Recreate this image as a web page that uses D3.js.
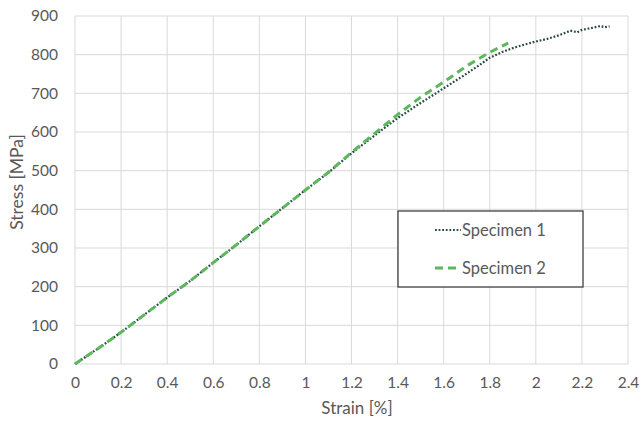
<!DOCTYPE html>
<html><head><meta charset="utf-8">
<script src="https://cdn.jsdelivr.net/npm/d3@7"></script>
<style>body{margin:0;background:#fff}svg{display:block}text{font-family:Lato,"Open Sans",sans-serif;fill:#595959}</style>
</head><body>
<script>
const xTicks = [0,0.2,0.4,0.6,0.8,1,1.2,1.4,1.6,1.8,2,2.2,2.4];
const yTicks = [0,100,200,300,400,500,600,700,800,900];
const seriesNames = ["Specimen 1","Specimen 2"];
const spec1Strain = [0,0.1,0.2,0.3,0.4,0.5,0.6,0.7,0.8,0.9,1.0,1.1,1.2,1.3,1.4,1.5,1.6,1.7,1.75,1.8,1.85,1.9,1.95,2.0,2.05,2.1,2.15,2.18,2.2,2.25,2.28,2.3,2.32];
const spec1Stress = [0,40,82,127,172,215,262,308,356,403,450,495,545,591,636,675,713,751,771,792,806,817,826,834,841,850,862,858,864,870,874,871,873];
const spec2Strain = [0,0.1,0.2,0.3,0.4,0.5,0.6,0.7,0.8,0.9,1.0,1.1,1.2,1.3,1.4,1.5,1.6,1.7,1.8,1.85,1.88];
const spec2Stress = [0,40,82,127,172,215,262,308,356,403,450,496,547,596,645,690,729,771,806,821,830];

const W=642,H=422, m={l:75,r:14,t:16,b:58};
const svg=d3.select("body").append("svg").attr("width",W).attr("height",H);
const x=d3.scaleLinear().domain([0,2.4]).range([m.l,W-m.r]);
const y=d3.scaleLinear().domain([0,900]).range([H-m.b,m.t]);

const grid=svg.append("g");
grid.selectAll("line.v").data(xTicks).join("line")
  .attr("x1",d=>x(d)).attr("x2",d=>x(d)).attr("y1",y(0)).attr("y2",y(900))
  .attr("stroke","#d9d9d9").attr("stroke-width",1);
grid.selectAll("line.h").data(yTicks).join("line")
  .attr("y1",d=>y(d)).attr("y2",d=>y(d)).attr("x1",x(0)).attr("x2",x(2.4))
  .attr("stroke","#d9d9d9").attr("stroke-width",1);

const xAxis=svg.append("g").attr("transform",`translate(0,${y(0)})`)
  .call(d3.axisBottom(x).tickValues(xTicks).tickSize(0).tickPadding(13).tickFormat(d=>String(d)));
const yAxis=svg.append("g").attr("transform",`translate(${x(0)},0)`)
  .call(d3.axisLeft(y).tickValues(yTicks).tickSize(0).tickPadding(17));
[xAxis,yAxis].forEach(a=>{a.select(".domain").remove();a.selectAll("text").attr("font-size",15.5).attr("fill","#595959").style("font-family","Lato, 'Open Sans', sans-serif");});

svg.append("text").attr("x",357).attr("y",414).attr("text-anchor","middle").attr("font-size",17).text("Strain [%]");
svg.append("text").attr("transform",`translate(23,182) rotate(-90)`).attr("text-anchor","middle").attr("font-size",17.5).text("Stress [MPa]");

const line=d3.line().x(d=>x(d[0])).y(d=>y(d[1]));
const s1=spec1Strain.map((v,i)=>[v,spec1Stress[i]]);
const s2=spec2Strain.map((v,i)=>[v,spec2Stress[i]]);
svg.append("path").datum(s1).attr("d",line).attr("fill","none").attr("stroke","#2a4a44").attr("stroke-width",2.2).attr("stroke-dasharray","1.8,1.8");
svg.append("path").datum(s2).attr("d",line).attr("fill","none").attr("stroke","#5cb85c").attr("stroke-width",3).attr("stroke-dasharray","8,5");

const lg=svg.append("g");
lg.append("rect").attr("x",398).attr("y",211).attr("width",185).attr("height",76).attr("fill","#fff").attr("stroke","#404040").attr("stroke-width",1.3);
const items=[{n:seriesNames[0],c:"#2a4a44",w:2.2,da:"1.8,1.8",yy:230},{n:seriesNames[1],c:"#5cb85c",w:3,da:"8,5",yy:268}];
items.forEach(it=>{
  lg.append("line").attr("x1",435).attr("x2",461).attr("y1",it.yy).attr("y2",it.yy).attr("stroke",it.c).attr("stroke-width",it.w).attr("stroke-dasharray",it.da);
  lg.append("text").attr("x",462).attr("y",it.yy+6).attr("font-size",16.5).text(it.n);
});
</script>
</body></html>
